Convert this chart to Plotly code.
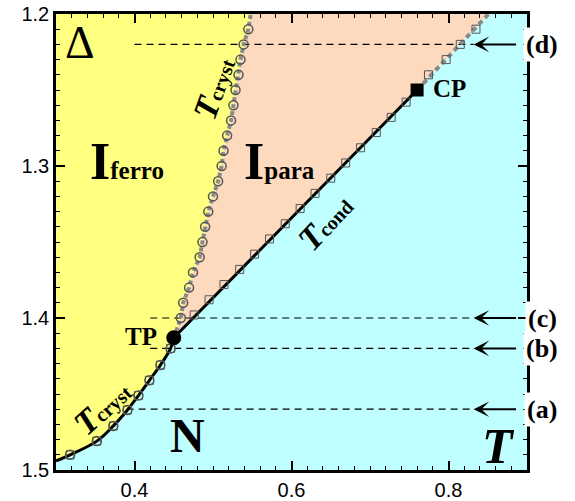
import plotly.graph_objects as go

# boundary between I_ferro and N (T_cryst, lower branch)
low_T = [0.300, 0.318, 0.352, 0.373, 0.391, 0.405, 0.419, 0.433, 0.446, 0.450]
low_D = [1.494, 1.490, 1.481, 1.471, 1.4605, 1.451, 1.441, 1.431, 1.420, 1.413]

# T_cryst upper branch (I_ferro / I_para), grey dotted with circles
up_T = [0.450, 0.459, 0.462, 0.4695, 0.4745, 0.483, 0.4866, 0.490, 0.494, 0.500, 0.5065,
        0.511, 0.5134, 0.518, 0.523, 0.526, 0.5287, 0.5325, 0.535, 0.539, 0.545, 0.548]
up_D = [1.413, 1.400, 1.390, 1.380, 1.370, 1.360, 1.350, 1.340, 1.330, 1.320, 1.310,
        1.300, 1.290, 1.280, 1.270, 1.260, 1.250, 1.240, 1.230, 1.220, 1.210, 1.200]

# T_cond line TP -> CP, then grey dashed continuation to the top
tp = (0.450, 1.413)
cp = (0.760, 1.250)
ext_T = [0.760, 0.851]
ext_D = [1.250, 1.200]

# square symbols along T_cond and its continuation
sq_T = [0.476, 0.495, 0.514, 0.534, 0.553, 0.572, 0.592, 0.611, 0.630, 0.650, 0.669,
        0.688, 0.708, 0.727, 0.746, 0.7745, 0.797, 0.815, 0.835]
sq_D = [1.398, 1.388, 1.378, 1.368, 1.358, 1.348, 1.338, 1.328, 1.318, 1.308, 1.298,
        1.288, 1.278, 1.268, 1.258, 1.240, 1.230, 1.220, 1.210]

# cuts (a)-(d)
cut_labels = ["(a)", "(b)", "(c)", "(d)"]
cut_D = [1.46, 1.42, 1.40, 1.22]
cut_start = [0.39, 0.42, 0.42, 0.40]

serif = "Liberation Serif"

fig = go.Figure()

# yellow region (I_ferro)
fig.add_trace(go.Scatter(
    x=[0.3] + low_T + up_T[1:] + [0.3],
    y=[1.2] + low_D + up_D[1:] + [1.2],
    fill="toself", fillcolor="#FFFF80", line=dict(width=0), mode="lines",
    hoverinfo="skip"))

# peach region (I_para)
fig.add_trace(go.Scatter(
    x=up_T + [ext_T[1], cp[0], tp[0]],
    y=up_D + [ext_D[1], cp[1], tp[1]],
    fill="toself", fillcolor="#FDD9BE", line=dict(width=0), mode="lines",
    hoverinfo="skip"))

# horizontal dashed cuts
for d, x0 in zip(cut_D, cut_start):
    fig.add_trace(go.Scatter(x=[x0, 0.832], y=[d, d], mode="lines",
                             line=dict(color="black", width=1.2, dash="7px,5px"),
                             hoverinfo="skip"))

# grey lines
fig.add_trace(go.Scatter(x=up_T, y=up_D, mode="lines",
                         line=dict(color="#8a8a8a", width=4, dash="4px,3px")))
fig.add_trace(go.Scatter(x=ext_T, y=ext_D, mode="lines",
                         line=dict(color="#8a8a8a", width=4, dash="5px,4px")))

# black lines
fig.add_trace(go.Scatter(x=low_T, y=low_D, mode="lines", line_shape="spline",
                         line=dict(color="black", width=3)))
fig.add_trace(go.Scatter(x=[tp[0], cp[0]], y=[tp[1], cp[1]], mode="lines",
                         line=dict(color="black", width=3)))

# symbols
fig.add_trace(go.Scatter(x=up_T[1:-1] + low_T[1:-1], y=up_D[1:-1] + low_D[1:-1],
                         mode="markers",
                         marker=dict(symbol="circle-open", size=9, color="#555555",
                                     line=dict(width=1.5))))
fig.add_trace(go.Scatter(x=sq_T + low_T[1:-1], y=sq_D + low_D[1:-1], mode="markers",
                         marker=dict(symbol="square-open", size=8, color="#555555",
                                     line=dict(width=1))))
fig.add_trace(go.Scatter(x=[tp[0]], y=[tp[1]], mode="markers",
                         marker=dict(symbol="circle", size=15, color="black")))
fig.add_trace(go.Scatter(x=[cp[0]], y=[cp[1]], mode="markers",
                         marker=dict(symbol="square", size=13, color="black")))

# arrows and labels
for lab, d in zip(cut_labels, cut_D):
    fig.add_annotation(x=0.832, y=d, ax=0.888, ay=d, xref="x", yref="y",
                       axref="x", ayref="y", text="", showarrow=True,
                       arrowhead=3, arrowsize=1.3, arrowwidth=2, arrowcolor="black")
    fig.add_annotation(x=1.032, y=d, xref="paper", yref="y", xanchor="center",
                       text="<b>" + lab + "</b>",
                       showarrow=False, bgcolor="white", borderpad=2,
                       font=dict(family=serif, size=26, color="black"))

def txt(x, y, s, size, angle=0):
    fig.add_annotation(x=x, y=y, xref="x", yref="y", text=s, showarrow=False,
                       textangle=angle, font=dict(family=serif, size=size, color="black"))

txt(0.331, 1.219, "Δ", 46)
txt(0.390, 1.297, "<b>I<span style='font-size:25px'>ferro</span></b>", 52)
txt(0.585, 1.297, "<b>I<span style='font-size:25px'>para</span></b>", 52)
txt(0.4675, 1.477, "<b>N</b>", 48)
txt(0.8637, 1.484, "<b><i>T</i></b>", 50)
txt(0.408, 1.412, "<b>TP</b>", 25)
txt(0.801, 1.249, "<b>CP</b>", 25)
txt(0.359, 1.459, "<b><i>T</i><span style='font-size:20px'>cryst</span></b>", 34, -42)
txt(0.5006, 1.2487, "<b><i>T</i><span style='font-size:20px'>cryst</span></b>", 34, -70)
txt(0.643, 1.337, "<b><i>T</i><span style='font-size:20px'>cond</span></b>", 34, -47)

axis_common = dict(showgrid=False, zeroline=False, showline=True, linecolor="black",
                   linewidth=2.5, mirror="ticks", ticks="inside", ticklen=9,
                   tickwidth=2, tickcolor="black", automargin=False,
                   tickfont=dict(family="Liberation Sans", size=20, color="black"))

fig.update_xaxes(range=[0.3, 0.9], tick0=0, dtick=0.2, tickformat=".1f",
                 minor=dict(dtick=0.02, ticks="inside", ticklen=4, tickwidth=1,
                            tickcolor="black"),
                 **axis_common)
fig.update_yaxes(range=[1.5, 1.2], tick0=0, dtick=0.1, tickformat=".1f",
                 minor=dict(dtick=0.01, ticks="inside", ticklen=4, tickwidth=1,
                            tickcolor="black"),
                 **axis_common)

fig.update_layout(width=575, height=501, showlegend=False,
                  margin=dict(l=56, r=48, t=14, b=31),
                  plot_bgcolor="#C0FFFF", paper_bgcolor="white")

# page body has a default 8px margin, drop it so the figure sits at the corner
fig.write_html("out.html", config={"displayModeBar": False},
               post_script="document.body.style.margin='0px';")
